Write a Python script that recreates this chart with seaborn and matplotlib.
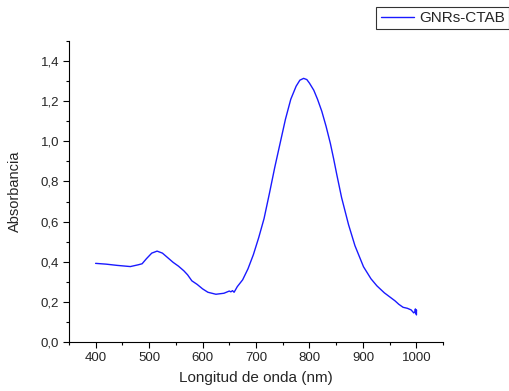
import numpy as np
import pandas as pd
import matplotlib
matplotlib.use("Agg")
import matplotlib.pyplot as plt
from matplotlib.ticker import MultipleLocator, FuncFormatter
import seaborn as sns

wavelength = [400, 420, 440, 465, 480, 487, 495, 505, 515, 525, 535, 545, 555, 565,
              572, 580, 590, 600, 610, 625, 640, 650, 653, 656, 659, 662, 665, 675,
              685, 695, 705, 715, 725, 735, 745, 755, 765, 775, 782, 789, 795, 800,
              808, 815, 823, 831, 839, 845, 851, 860, 873, 885, 901, 915, 926, 940,
              955, 960, 967, 975, 983, 990, 995, 997, 998, 999, 1000, 1000]
absorbance = [0.392, 0.388, 0.382, 0.376, 0.385, 0.390, 0.415, 0.443, 0.453, 0.443,
              0.420, 0.397, 0.378, 0.355, 0.335, 0.305, 0.287, 0.265, 0.248, 0.238,
              0.243, 0.254, 0.250, 0.256, 0.248, 0.262, 0.276, 0.310, 0.365, 0.435,
              0.520, 0.615, 0.740, 0.870, 0.990, 1.110, 1.210, 1.275, 1.305, 1.314,
              1.308, 1.290, 1.255, 1.210, 1.150, 1.075, 0.990, 0.915, 0.835, 0.720,
              0.585, 0.480, 0.375, 0.315, 0.280, 0.245, 0.215, 0.205, 0.188, 0.173,
              0.168, 0.160, 0.145, 0.150, 0.165, 0.140, 0.160, 0.135]
series_label = "GNRs-CTAB"

df = pd.DataFrame({"x": wavelength, "y": absorbance, "s": series_label})

sns.set_style("ticks")
plt.rcParams["font.family"] = ["Liberation Sans", "DejaVu Sans"]

fig = plt.figure(figsize=(5.10, 3.91), dpi=100)
ax = fig.add_axes([0.135, 0.1253, 0.734, 0.7697])

sns.lineplot(data=df, x="x", y="y", hue="s", palette=["#1a1aff"], sort=False,
             estimator=None, linewidth=1.0, ax=ax, legend=False)

ax.set_xlim(350, 1050)
ax.set_ylim(0, 1.5)
ax.xaxis.set_major_locator(MultipleLocator(100))
ax.xaxis.set_minor_locator(MultipleLocator(50))
ax.yaxis.set_major_locator(MultipleLocator(0.2))
ax.yaxis.set_minor_locator(MultipleLocator(0.1))
ax.yaxis.set_major_formatter(FuncFormatter(lambda v, p: f"{v:.1f}".replace(".", ",")))
ax.xaxis.set_major_formatter(FuncFormatter(lambda v, p: f"{v:.0f}"))
ax.tick_params(which="major", direction="out", length=4, width=0.8, labelsize=9.5, color="black", pad=3)
ax.tick_params(which="minor", direction="out", length=2.5, width=0.8, color="black")
for side in ["top", "right"]:
    ax.spines[side].set_visible(False)
for side in ["left", "bottom"]:
    ax.spines[side].set_linewidth(0.8)
    ax.spines[side].set_color("black")

ax.set_xlabel("Longitud de onda (nm)", fontsize=11)
ax.set_ylabel("Absorbancia", fontsize=10.5)
ax.xaxis.set_label_coords(0.5, -0.095)
ax.yaxis.set_label_coords(-0.125, 0.5)

line = ax.get_lines()[0]
leg = fig.legend([line], [series_label], loc="upper right", bbox_to_anchor=(0.999, 0.983),
                 fontsize=11, frameon=True, fancybox=False, edgecolor="black",
                 borderpad=0.28, handlelength=2.2, handletextpad=0.35, borderaxespad=0)
leg.get_frame().set_linewidth(0.8)

fig.savefig("out.png", dpi=100)
